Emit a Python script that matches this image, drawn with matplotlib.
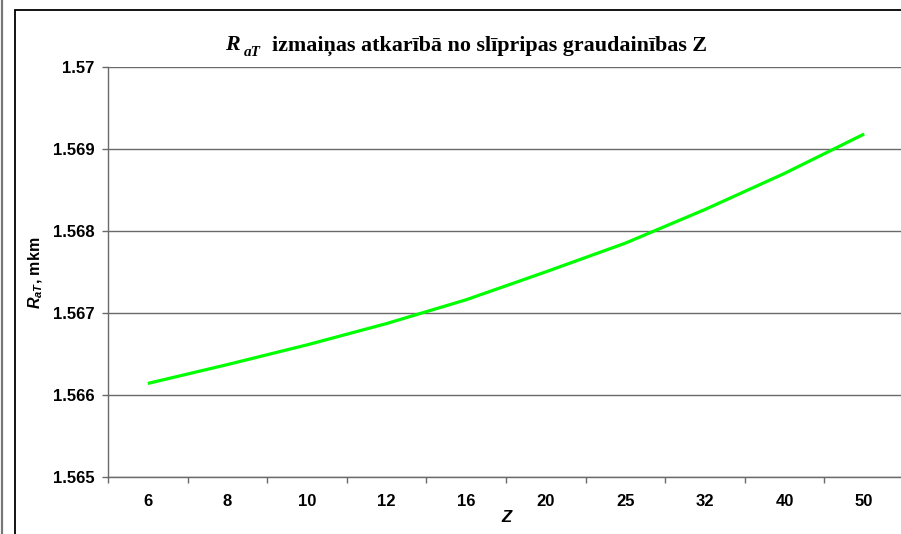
import matplotlib
matplotlib.use("Agg")
import matplotlib.pyplot as plt
from matplotlib.lines import Line2D
from matplotlib.patches import Rectangle
from matplotlib.ticker import FixedLocator, NullFormatter

categories = ["6", "8", "10", "12", "16", "20", "25", "32", "40", "50"]
values = [1.56614, 1.56637, 1.56661, 1.56687, 1.56716, 1.56750, 1.56785, 1.56826, 1.56870, 1.56918]
y_ticks = [1.565, 1.566, 1.567, 1.568, 1.569, 1.570]
y_tick_labels = ["1.565", "1.566", "1.567", "1.568", "1.569", "1.57"]

plt.rcParams['mathtext.fontset'] = 'custom'
plt.rcParams['mathtext.it'] = 'Liberation Sans:italic:bold'
plt.rcParams['mathtext.rm'] = 'Liberation Sans:bold'
plt.rcParams['mathtext.bf'] = 'Liberation Sans:bold'

W, H = 901, 534
fig = plt.figure(figsize=(W / 100, H / 100), dpi=100)

def fx(px):
    return px / W

def fy(py):
    return 1 - py / H

grid_col = '#6a6a6a'

# outer frames
fig.add_artist(Line2D([fx(1.5), fx(1.5)], [0, 1], color='#777777', lw=1.6, transform=fig.transFigure))
fig.add_artist(Rectangle((fx(15), fy(560)), fx(960) - fx(15), fy(10) - fy(560),
                         transform=fig.transFigure, fill=False, edgecolor='black', lw=1.3))

left, right, top, bottom = 108, 904, 66.7, 477
ax = fig.add_axes([fx(left), fy(bottom), fx(right) - fx(left), fy(top) - fy(bottom)])
x = list(range(len(categories)))
ax.plot(x, values, color='#00ff00', lw=2.3, solid_capstyle='butt', zorder=3)

ax.set_xlim(-0.5, len(categories) - 0.5)
ax.set_ylim(1.565, 1.570)
ax.set_yticks(y_ticks)
ax.set_yticklabels(y_tick_labels)
ax.yaxis.grid(True, color=grid_col, lw=1.0)
ax.set_axisbelow(True)

ax.set_xticks(x)
ax.set_xticklabels(categories)
ax.xaxis.set_minor_locator(FixedLocator([i - 0.5 for i in range(len(categories) + 1)]))
ax.xaxis.set_minor_formatter(NullFormatter())
ax.tick_params(axis='x', which='major', length=0, pad=12)
ax.tick_params(axis='x', which='minor', length=4, width=1.0, color=grid_col, direction='out')
ax.tick_params(axis='y', length=4, width=1.0, color=grid_col, pad=5.5)

for lab in ax.get_xticklabels() + ax.get_yticklabels():
    lab.set_fontfamily('Liberation Sans')
    lab.set_fontweight('bold')
    lab.set_fontsize(12)

for s in ['top', 'right']:
    ax.spines[s].set_visible(False)
for s in ['left', 'bottom']:
    ax.spines[s].set_color(grid_col)
    ax.spines[s].set_linewidth(1.0)

# y label
fig.text(fx(36), fy(273), r"$R_{aT}$, mkm", rotation=90, ha='center', va='center',
         fontfamily='Liberation Sans', fontweight='bold', fontsize=11.5)
# x label
fig.text(fx(506), fy(518), "Z", ha='center', va='center',
         fontfamily='Liberation Sans', fontweight='bold', fontstyle='italic', fontsize=12)

# title (chained pieces)
t1 = fig.text(fx(225), fy(50), "R", ha='left', va='baseline',
              fontfamily='Liberation Serif', fontweight='bold', fontstyle='italic', fontsize=15.8)
t2 = ax.annotate("aT", xy=(1, 0), xycoords=t1, xytext=(3, -3), textcoords='offset points',
                 ha='left', va='bottom', fontfamily='Liberation Serif', fontweight='bold',
                 fontstyle='italic', fontsize=11, annotation_clip=False)
t3 = ax.annotate("  izmaiņas atkarībā no slīpripas graudainības Z", xy=(1, 0), xycoords=t2,
                 xytext=(0, 2), textcoords='offset points',
                 ha='left', va='bottom', fontfamily='Liberation Serif', fontweight='bold',
                 fontsize=15.8, annotation_clip=False)

fig.savefig("out.png", dpi=100)
